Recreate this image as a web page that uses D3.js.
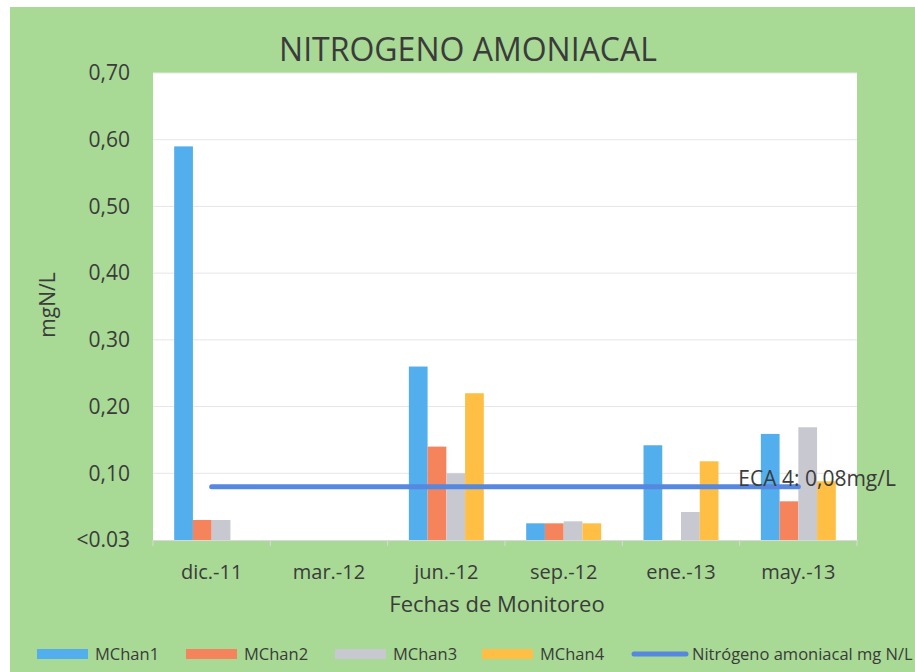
<!DOCTYPE html>
<html>
<head>
<meta charset="utf-8">
<script src="https://cdn.jsdelivr.net/npm/d3@7"></script>
<style>
  body { margin: 0; background: #fff; }
  text { font-family: "Open Sans", "Noto Sans", sans-serif; fill: #3b3b3b; }
</style>
</head>
<body>
<div id="chart"></div>
<script>
const svgWidth = 915;
const svgHeight = 672;

const margin = { top: 73, right: 58, bottom: 132, left: 153 };
const width = svgWidth - margin.left - margin.right;
const height = svgHeight - margin.top - margin.bottom;

// data
const fechas = ["dic.-11", "mar.-12", "jun.-12", "sep.-12", "ene.-13", "may.-13"];
const series = ["MChan1", "MChan2", "MChan3", "MChan4"];
const mchan1 = [0.59, 0, 0.26, 0.025, 0.142, 0.159];
const mchan2 = [0.03, 0, 0.14, 0.025, 0, 0.058];
const mchan3 = [0.03, 0, 0.10, 0.028, 0.042, 0.169];
const mchan4 = [0, 0, 0.22, 0.025, 0.118, 0.088];
const eca = [0.08, 0.08, 0.08, 0.08, 0.08, 0.08];
const yTicks = [0, 0.1, 0.2, 0.3, 0.4, 0.5, 0.6, 0.7];
const yTickLabels = ["<0.03", "0,10", "0,20", "0,30", "0,40", "0,50", "0,60", "0,70"];
const colors = ["#52aeec", "#f5845c", "#c8c8d0", "#ffbf45"];
const lineColor = "#5588de";

const values = [mchan1, mchan2, mchan3, mchan4];

const svg = d3.select("#chart")
  .append("svg")
  .attr("width", svgWidth)
  .attr("height", svgHeight);

// green chart area
svg.append("rect")
  .attr("x", 10).attr("y", 7)
  .attr("width", svgWidth - 10).attr("height", svgHeight - 7)
  .attr("fill", "#a8d995");

const chartGroup = svg.append("g")
  .attr("transform", `translate(${margin.left}, ${margin.top})`);

// plot area
chartGroup.append("rect")
  .attr("width", width).attr("height", height)
  .attr("fill", "#fff");

const x0 = d3.scaleBand().domain(fechas).range([0, width]).paddingInner(0).paddingOuter(0);
const x1 = d3.scaleBand().domain(series).range([0, x0.bandwidth()]).paddingOuter(1.13).paddingInner(0);
const y = d3.scaleLinear().domain([0, 0.7]).range([height, 0]);

// gridlines
chartGroup.append("g")
  .selectAll("line")
  .data(yTicks.slice(1))
  .join("line")
  .attr("x1", 0).attr("x2", width)
  .attr("y1", d => y(d)).attr("y2", d => y(d))
  .attr("stroke", "#e6e6e6").attr("stroke-width", 1);

// y axis labels
const leftAxis = d3.axisLeft(y)
  .tickValues(yTicks)
  .tickFormat((d, i) => yTickLabels[i])
  .tickSize(0)
  .tickPadding(23);

chartGroup.append("g")
  .call(leftAxis)
  .call(g => g.select(".domain").remove())
  .selectAll("text")
  .attr("font-size", "21px")
  .attr("fill", "#3b3b3b")
  .attr("font-family", "'Open Sans', sans-serif");

// bars
const groups = chartGroup.append("g")
  .selectAll("g")
  .data(fechas)
  .join("g")
  .attr("transform", d => `translate(${x0(d)}, 0)`);

groups.selectAll("rect")
  .data((d, i) => series.map((s, j) => ({ s, v: values[j][i], c: colors[j] })))
  .join("rect")
  .attr("x", d => x1(d.s))
  .attr("width", x1.bandwidth())
  .attr("y", d => y(d.v))
  .attr("height", d => height - y(d.v))
  .attr("fill", d => d.c);

// x axis
const bottomAxis = d3.axisBottom(x0).tickSize(0).tickPadding(25);
const xAxis = chartGroup.append("g")
  .attr("transform", `translate(0, ${height})`)
  .call(bottomAxis);
xAxis.select(".domain").attr("stroke", "#d9d9d9");
xAxis.selectAll("text")
  .attr("font-size", "20px")
  .attr("fill", "#3b3b3b")
  .attr("font-family", "'Open Sans', sans-serif");

// boundary tick marks
chartGroup.append("g")
  .selectAll("line")
  .data(d3.range(fechas.length + 1))
  .join("line")
  .attr("x1", i => i * x0.bandwidth()).attr("x2", i => i * x0.bandwidth())
  .attr("y1", height).attr("y2", height + 6)
  .attr("stroke", "#d9d9d9");

// ECA line
const line = d3.line()
  .x((d, i) => x0(fechas[i]) + x0.bandwidth() / 2)
  .y(d => y(d));

chartGroup.append("path")
  .datum(eca)
  .attr("d", line)
  .attr("fill", "none")
  .attr("stroke", lineColor)
  .attr("stroke-width", 5)
  .attr("stroke-linecap", "round");

chartGroup.append("text")
  .attr("x", x0(fechas[5]) + x0.bandwidth() / 2 - 60)
  .attr("y", y(0.08) - 1)
  .attr("font-size", "21px")
  .text("ECA 4: 0,08mg/L");

// title
svg.append("text")
  .attr("x", 468).attr("y", 61)
  .attr("text-anchor", "middle")
  .attr("font-size", "32px")
  .text("NITROGENO AMONIACAL");

// axis titles
svg.append("text")
  .attr("transform", "rotate(-90)")
  .attr("x", -305).attr("y", 55)
  .attr("text-anchor", "middle")
  .attr("font-size", "21px")
  .text("mgN/L");

svg.append("text")
  .attr("x", 497).attr("y", 612)
  .attr("text-anchor", "middle")
  .attr("font-size", "22px")
  .text("Fechas de Monitoreo");

// legend
const legendItems = [
  { label: "MChan1", color: colors[0], x: 37, type: "bar" },
  { label: "MChan2", color: colors[1], x: 186, type: "bar" },
  { label: "MChan3", color: colors[2], x: 335, type: "bar" },
  { label: "MChan4", color: colors[3], x: 482, type: "bar" },
  { label: "Nitrógeno amoniacal mg N/L", color: lineColor, x: 634, type: "line" }
];

const legend = svg.append("g").attr("transform", "translate(0, 654)");
legendItems.forEach(d => {
  if (d.type === "bar") {
    legend.append("rect")
      .attr("x", d.x).attr("y", -5)
      .attr("width", 51).attr("height", 10)
      .attr("fill", d.color);
  } else {
    legend.append("line")
      .attr("x1", d.x).attr("x2", d.x + 52)
      .attr("y1", 0).attr("y2", 0)
      .attr("stroke", d.color).attr("stroke-width", 5)
      .attr("stroke-linecap", "round");
  }
  legend.append("text")
    .attr("x", d.type === "bar" ? d.x + 58 : d.x + 58)
    .attr("y", 6)
    .attr("font-size", "16.5px")
    .text(d.label);
});
</script>
</body>
</html>
